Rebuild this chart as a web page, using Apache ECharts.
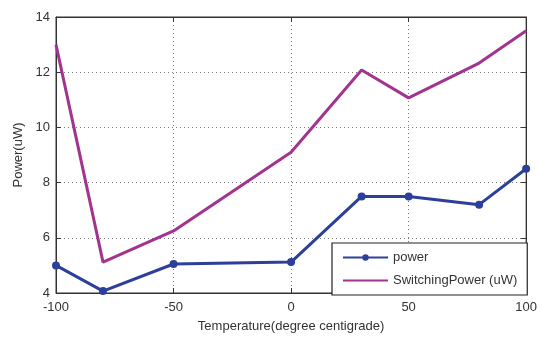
<!DOCTYPE html>
<html><head><meta charset="utf-8">
<script src="https://cdn.jsdelivr.net/npm/echarts@6/dist/echarts.min.js"></script>
<style>html,body{margin:0;padding:0;background:#fff}#c{width:540px;height:345px}</style>
</head><body><div id="c"></div>
<script>
const temps = [-100, -80, -50, 0, 30, 50, 80, 100];
const power = [5.0, 4.07, 5.05, 5.12, 7.5, 7.5, 7.2, 8.5];
const switchingPower = [13.0, 5.12, 6.25, 9.1, 12.08, 11.07, 12.33, 13.5];
const xTicks = [-100, -50, 0, 50, 100];
const yTicks = [4, 6, 8, 10, 12, 14];

const font = 'Liberation Sans Narrow, Arial Narrow, Liberation Sans, sans-serif';
const chart = echarts.init(document.getElementById('c'));
const gridLine = {show: true, lineStyle: {color: '#777', type: [1, 3], width: 1}};
chart.setOption({
  animation: false,
  backgroundColor: '#fff',
  grid: {left: 56, right: 12, top: 17, bottom: 52, show: true, borderColor: '#333', borderWidth: 1},
  legend: {
    left: 332, top: 243, width: 196, orient: 'vertical',
    backgroundColor: '#fff', borderColor: '#222', borderWidth: 1.2, borderRadius: 0,
    padding: [8, 10, 8, 10], itemGap: 10, itemWidth: 45, itemHeight: 8,
    textStyle: {fontFamily: font, fontSize: 13, color: '#333'},
    data: ['power', {name: 'SwitchingPower (uW)', itemStyle: {opacity: 0}}]
  },
  xAxis: [{
    type: 'value', min: -100, max: 100, interval: 50,
    name: 'Temperature(degree centigrade)', nameLocation: 'middle', nameGap: 27,
    nameTextStyle: {fontFamily: font, fontSize: 13, color: '#333'},
    axisLine: {onZero: false, lineStyle: {color: '#333'}},
    axisTick: {inside: true, length: 5, lineStyle: {color: '#333'}},
    axisLabel: {fontFamily: font, fontSize: 13, color: '#333', margin: 8,
      formatter: v => xTicks.includes(v) ? String(v) : ''},
    splitLine: gridLine
  }, {
    type: 'value', min: -100, max: 100, interval: 50, position: 'top',
    axisLine: {show: true, onZero: false, lineStyle: {color: '#333'}},
    axisTick: {inside: true, length: 5, lineStyle: {color: '#333'}},
    axisLabel: {show: false}, splitLine: {show: false}
  }],
  yAxis: [{
    type: 'value', min: 4, max: 14, interval: 2,
    name: 'Power(uW)', nameLocation: 'middle', nameGap: 28,
    nameTextStyle: {fontFamily: font, fontSize: 13, color: '#333'},
    axisLine: {show: true, onZero: false, lineStyle: {color: '#333'}},
    axisTick: {show: true, inside: true, length: 5, lineStyle: {color: '#333'}},
    axisLabel: {fontFamily: font, fontSize: 13, color: '#333', margin: 6,
      formatter: v => yTicks.includes(v) ? String(v) : ''},
    splitLine: gridLine
  }, {
    type: 'value', min: 4, max: 14, interval: 2, position: 'right',
    axisLine: {show: true, onZero: false, lineStyle: {color: '#333'}},
    axisTick: {show: true, inside: true, length: 5, lineStyle: {color: '#333'}},
    axisLabel: {show: false}, splitLine: {show: false}
  }],
  series: [{
    name: 'power', type: 'line',
    data: temps.map((t, i) => [t, power[i]]),
    symbol: 'circle', symbolSize: 8,
    lineStyle: {color: '#2c3f9a', width: 3},
    itemStyle: {color: '#2c3f9a'}
  }, {
    name: 'SwitchingPower (uW)', type: 'line',
    data: temps.map((t, i) => [t, switchingPower[i]]),
    symbol: 'none', showSymbol: false,
    lineStyle: {color: '#a23490', width: 3},
    itemStyle: {color: '#a23490'}
  }]
});
</script></body></html>
